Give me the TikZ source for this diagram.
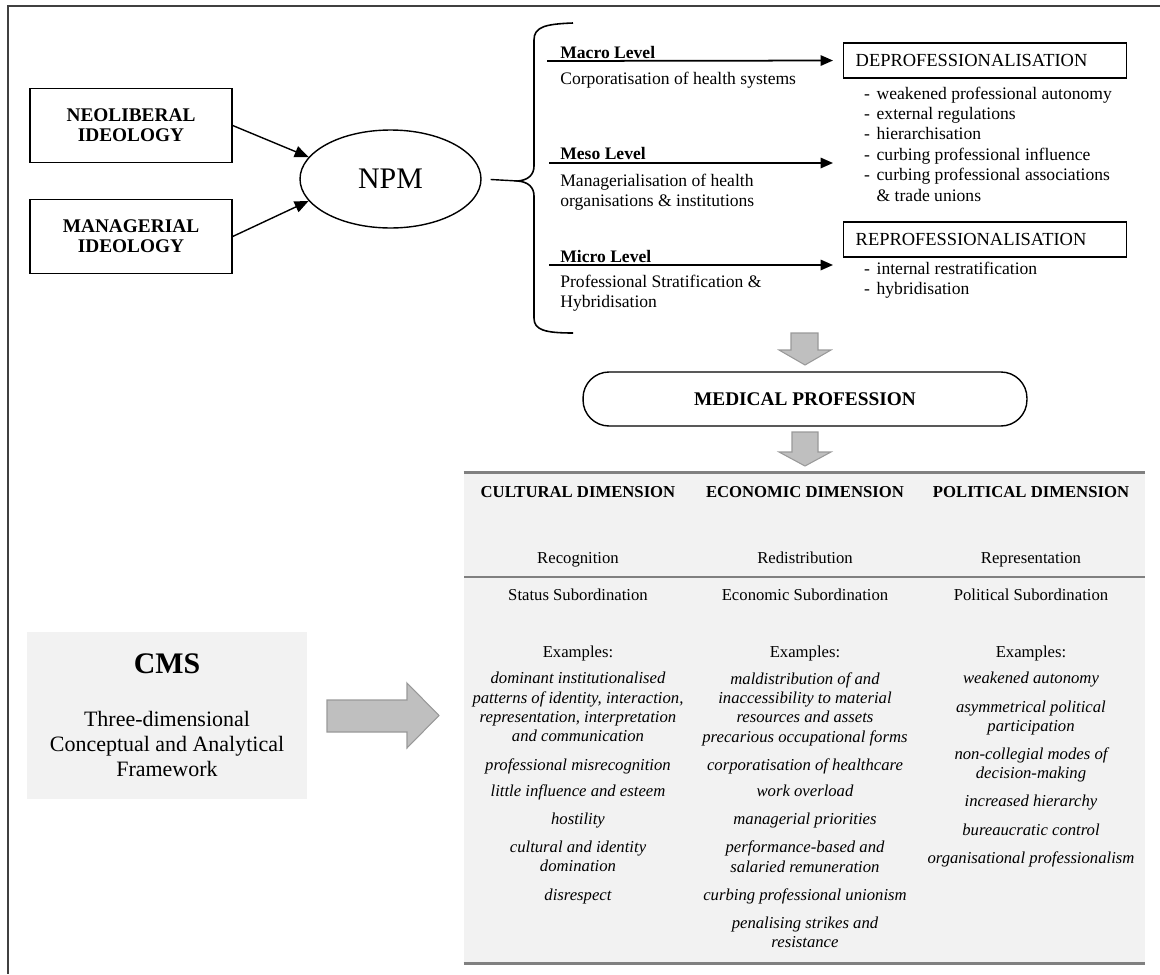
\documentclass[tikz,border=0pt]{standalone}
\usepackage{fontspec}
\setmainfont{Liberation Serif}
\usetikzlibrary{arrows.meta,shapes.geometric}
\newcommand{\dashitem}{\makebox[1.1em][c]{-}}

\begin{document}
\begin{tikzpicture}
    [x=0.02cm, y=-0.02cm, >={Triangle[length=2.8mm,width=2.3mm]},
     ideo/.style={draw, line width=0.8pt, minimum width=4.04cm, minimum height=1.48cm, align=center, font=\fontsize{11}{11.5}\selectfont\bfseries},
     lvl/.style={anchor=west, inner sep=0pt, font=\fontsize{10}{11.6}\selectfont\bfseries},
     desc/.style={anchor=west, inner sep=0pt, align=left, font=\fontsize{10}{11.6}\selectfont},
     outcome/.style={draw, line width=0.8pt, anchor=west, text width=5.18cm, inner xsep=0.24cm, minimum height=0.7cm, font=\fontsize{10.5}{12}\selectfont},
     lvlarr/.style={->, line width=1pt, >={Triangle[length=2.5mm,width=2.1mm]}},
     blockarr/.style={fill=black!25, draw=black!40, line width=0.6pt},
     colhead/.style={inner sep=0pt, text height=1.6ex, text depth=0.4ex, font=\fontsize{9.5}{11}\selectfont\bfseries},
     cell/.style={inner sep=0pt, text height=1.6ex, text depth=0.4ex, font=\fontsize{9.5}{11}\selectfont},
     ex/.style={anchor=north, inner sep=0pt, align=center, font=\fontsize{9.5}{11}\selectfont\itshape},
     rule/.style={line width=1.6pt, black!50}]
    \useasboundingbox (0,0) rectangle (1160,974);
    \draw[line width=0.8pt, black!75] (1160,6) -- (8,6) -- (8,974);

    % ideologies and NPM
    \node[ideo] (neo) at (131,125.5) {NEOLIBERAL\\IDEOLOGY};
    \node[ideo] (man) at (131,236.5) {MANAGERIAL\\IDEOLOGY};
    \node[ellipse, draw, line width=0.8pt, minimum width=3.62cm, minimum height=1.96cm, font=\fontsize{17}{20}\selectfont] (npm) at (390.5,179) {NPM};
    \draw[->, line width=0.8pt] (neo.east) -- (npm.165);
    \draw[->, line width=0.8pt] (man.east) -- (npm.195);

    % brace
    \coordinate (tip) at (518,181);
    \draw[line width=0.8pt, shorten <=0.18cm] (npm.east) -- (tip);
    \draw[line width=0.9pt] (573,23) .. controls (545,24) and (534,27) .. (534,40) -- (534,166)
        .. controls (534,175) and (528,180) .. (tip) .. controls (528,182) and (534,187) .. (534,196)
        -- (534,318) .. controls (534,330) and (545,333) .. (573,333);

    % levels
    \node[lvl] (macro) at (560,52) {Macro Level};
    \node[desc] (macrod) at (560,80) {Corporatisation of health systems};
    \node[lvl] (meso) at (560,153) {Meso Level};
    \node[desc] (mesod) at (560,192) {Managerialisation of health\\organisations \& institutions};
    \node[lvl] (micro) at (560,256) {Micro Level};
    \node[desc] (microd) at (560,293) {Professional Stratification \&\\Hybridisation};

    \node[outcome] (deprof) at (843,60.5) {DEPROFESSIONALISATION};
    \node[desc] (deprofl) at (857,144) {\dashitem weakened professional autonomy\\
        \dashitem external regulations\\ \dashitem hierarchisation\\
        \dashitem curbing professional influence\\ \dashitem curbing professional associations\\
        \hspace*{1.1em}\& trade unions};
    \node[outcome] (reprof) at (843,239.5) {REPROFESSIONALISATION};
    \node[desc] (reprofl) at (857,280) {\dashitem internal restratification\\ \dashitem hybridisation};

    \coordinate (macS) at (547,61);
    \coordinate (mesS) at (549,163);
    \coordinate (mesE) at (833,163);
    \coordinate (micS) at (549,265);
    \coordinate (micE) at (833,265);
    \draw[lvlarr, shorten >=0.2cm] (macS) -- (deprof.west);
    \draw[lvlarr] (mesS) -- (mesE);
    \draw[lvlarr] (micS) -- (micE);

    % medical profession
    \draw[blockarr] (791,333) -- (818,333) -- (818,350) -- (831,350) -- (805,365) -- (779,350) -- (791,350) -- cycle;
    \node[draw, line width=0.8pt, rounded corners=0.52cm, minimum width=8.88cm, minimum height=1.08cm, font=\fontsize{11}{12}\selectfont\bfseries] (med) at (805,399) {MEDICAL PROFESSION};
    \draw[blockarr] (792,432) -- (818,432) -- (818,452) -- (831,452) -- (805,466) -- (779,452) -- (792,452) -- cycle;

    % table
    \node[fill=gray!10, inner sep=0pt, minimum width=13.62cm, minimum height=9.8cm] (tab) at (804.5,718) {};
    \coordinate (midL) at (464,577);
    \coordinate (midR) at (1145,577);
    \draw[rule] (tab.north west) -- (tab.north east);
    \draw[rule] (midL) -- (midR);
    \draw[rule] (tab.south west) -- (tab.south east);

    \node[colhead] (cult) at (578,493) {CULTURAL DIMENSION};
    \node[colhead] (econ) at (805,493) {ECONOMIC DIMENSION};
    \node[colhead] (poli) at (1031,493) {POLITICAL DIMENSION};
    \node[cell] (reco) at (578,559) {Recognition};
    \node[cell] (redi) at (805,559) {Redistribution};
    \node[cell] (repr) at (1031,559) {Representation};
    \node[cell] (stat) at (578,596) {Status Subordination};
    \node[cell] (ecos) at (805,596) {Economic Subordination};
    \node[cell] (pols) at (1031,596) {Political Subordination};
    \node[cell] (ex1) at (578,653) {Examples:};
    \node[cell] (ex2) at (805,653) {Examples:};
    \node[cell] (ex3) at (1031,653) {Examples:};

    \node[ex] (cultx) at (578,672) {dominant institutionalised\\ patterns of identity, interaction,\\
        representation, interpretation\\ and communication\\[5pt] professional misrecognition\\[4pt]
        little influence and esteem\\[5pt] hostility\\[5pt] cultural and identity\\ domination\\[5pt] disrespect};
    \node[ex] (econx) at (805,672) {maldistribution of and\\ inaccessibility to material\\
        resources and assets\\ precarious occupational forms\\[5pt] corporatisation of healthcare\\[4pt]
        work overload\\[5pt] managerial priorities\\[5pt] performance-based and\\ salaried remuneration\\[5pt]
        curbing professional unionism\\[5pt] penalising strikes and\\ resistance};
    \node[ex] (polix) at (1031,672) {weakened autonomy\\[5pt] asymmetrical political\\ participation\\[5pt]
        non-collegial modes of\\ decision-making\\[5pt] increased hierarchy\\[5pt] bureaucratic control\\[5pt]
        organisational professionalism};

    % CMS
    \node[fill=gray!10, minimum width=5.6cm, minimum height=3.34cm, align=center, font=\fontsize{12.5}{14.2}\selectfont] (cms) at (167,715.5)
        {{\fontsize{17}{20}\selectfont\bfseries CMS}\\[16pt] Three-dimensional\\ Conceptual and Analytical\\ Framework};
    \draw[blockarr] (327,700) -- (407,700) -- (407,683) -- (439,715.5) -- (407,748) -- (407,732) -- (327,732) -- cycle;
\end{tikzpicture}
\end{document}
